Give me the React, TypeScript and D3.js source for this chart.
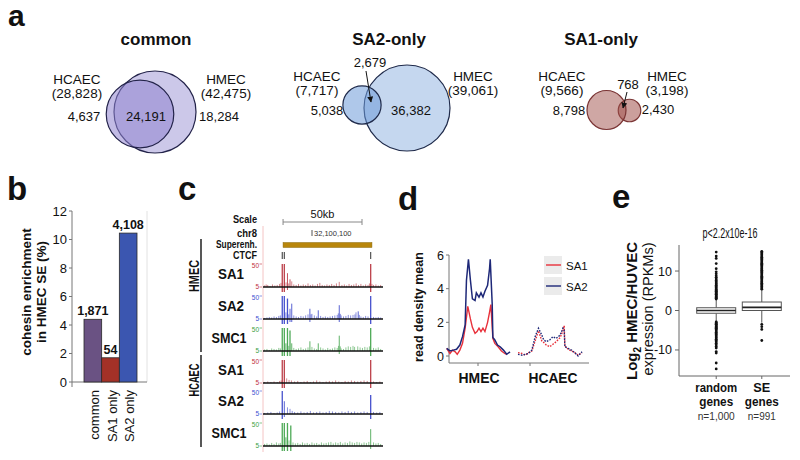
import React from 'react';
import * as d3 from 'd3';

const FONT = "'Liberation Sans', Arial, Helvetica, sans-serif";

// ---------------- Panel a: Venn counts ----------------
const vennTitles = ['common', 'SA2-only', 'SA1-only'];
const vennHcaecTotal = [28828, 7717, 9566];
const vennHmecTotal = [42475, 39061, 3198];
const vennHcaecOnly = [4637, 5038, 8798];
const vennOverlap = [24191, 2679, 768];
const vennHmecOnly = [18284, 36382, 2430];

// ---------------- Panel b: bars ----------------
const barCategories = ['common', 'SA1 only', 'SA2 only'];
const barValues = [4.4, 1.7, 10.45];
const barCounts = [1871, 54, 4108];
const barTicks = [0, 2, 4, 6, 8, 10, 12];

// ---------------- Panel c: tracks ----------------
const trackGroups = ['HMEC', 'HCAEC'];
const trackNames = ['SA1', 'SA2', 'SMC1', 'SA1', 'SA2', 'SMC1'];
const trackTickLabels = ['50', '5'];
const ctcfSites = [12.2, 13.5, 68.2];
const superEnhancer = [12.7, 69];
const scaleBarKb = [12.7, 62.7];
const chrName = 'chr8';
const chrCoordLabel = '32,100,100';
const hmecSA1Signal: [number, number][] = [[1,8],[2,10],[3,9],[4.5,7],[6,10],[7.5,8],[9,9],[10.5,11],[11.4,13],[12.2,60],[13.5,60],[14.6,14],[15.5,32],[16.3,12],[17.1,20],[18.2,16],[19.5,10],[21,9],[22.5,11],[24,8],[25.5,10],[27,9],[28.5,12],[30,9],[31.5,10],[33,8],[34.5,11],[36,13],[37.5,9],[39,8],[40.5,10],[42,9],[43.5,11],[45,9],[46.5,12],[48.3,15],[50,9],[51.5,10],[53,8],[54.5,11],[56,9],[57.5,10],[59,12],[60.5,9],[62,11],[63.5,8],[65,10],[66.5,9],[67.4,12],[68.2,60],[69,11],[70,9],[71.5,10],[73,8],[74.5,9]];
const hmecSA2Signal: [number, number][] = [[1,7],[2.5,8],[4,9],[5.5,8],[7,10],[8.5,9],[10,11],[11,12],[12.2,60],[13.5,60],[14.5,18],[15.5,45],[16.3,14],[17.1,25],[18.2,35],[19.5,12],[21,10],[22.5,9],[24,11],[25.5,10],[27,12],[28.5,14],[29.7,25],[30.4,14],[31,15],[32.5,12],[34,10],[35,22],[36.5,11],[38,9],[39.5,10],[41,9],[42.5,10],[44,11],[45.5,12],[47,13],[47.7,16],[48.3,32],[49,15],[49.5,12],[51,10],[52.5,11],[54,13],[55.5,12],[57,13],[58.2,14],[58.9,18],[60.3,20],[61,13],[62,10],[63.5,9],[65,11],[66.5,10],[68.2,60],[70,9],[71.5,8],[73,9],[74.5,8]];
const hmecSMC1Signal: [number, number][] = [[1,8],[2.5,9],[4,7],[5.5,10],[7,9],[8.5,8],[10,11],[11,10],[12.2,60],[13.5,60],[14.5,20],[15.5,55],[16.3,15],[17.1,45],[18.2,20],[19.5,11],[21,9],[22.5,10],[24,12],[25.5,9],[27,10],[28.5,12],[29.7,24],[31,13],[32.5,10],[34,9],[35,20],[36.5,12],[38,10],[39.5,8],[41,11],[42.5,9],[44,10],[45.5,12],[47,11],[47.8,15],[48.3,35],[49,14],[49.5,10],[51,9],[52.5,12],[54,14],[55.5,13],[57,15],[58,13],[60,14],[61.5,12],[63,11],[64.5,13],[66,12],[67.4,14],[68.2,60],[70,11],[71.5,10],[73,12],[74.5,9]];
const hcaecSA1Signal: [number, number][] = [[1,7],[3,8],[5,7],[7,8],[9,7],[10.5,9],[11.5,10],[12.2,60],[13.5,60],[15,14],[16.5,11],[18,10],[20,8],[22,9],[24,7],[26,8],[28,9],[30,7],[32,8],[34,10],[36,8],[38,7],[40,8],[42,9],[44,8],[46,10],[48,8],[50,7],[52,9],[54,8],[56,10],[58,9],[60,8],[62,9],[64,10],[66,9],[68.2,60],[70,8],[72,7],[74,8]];
const hcaecSA2Signal: [number, number][] = [[1,7],[3,8],[5,9],[7,7],[9,8],[10.5,10],[12.2,55],[13.5,30],[15.5,18],[17.1,15],[18.5,11],[20,9],[22,8],[24,10],[26,8],[28,9],[30,11],[32,8],[34,9],[36,10],[38,8],[40,9],[42,11],[44,10],[46,9],[48,8],[50,10],[52,9],[54,11],[56,9],[58,10],[60,8],[62,9],[64,10],[66,9],[68.2,42],[70,9],[72,8],[74,9]];
const hcaecSMC1Signal: [number, number][] = [[1,9],[2.5,10],[4,8],[5.5,11],[7,9],[8.5,12],[10,10],[11,11],[12.2,60],[13.5,60],[14.5,22],[15.5,55],[16.5,16],[17.6,45],[19,12],[20.5,10],[22,11],[23.5,9],[25,12],[26.5,10],[28,11],[29.5,9],[31,12],[32.5,10],[34,11],[35.5,9],[37,12],[38.5,10],[40,11],[41.5,12],[43,13],[44.5,10],[46,12],[47.5,11],[49,13],[50.5,10],[52,12],[53.5,11],[55,14],[56.5,12],[58,11],[59.5,13],[61,12],[62.5,10],[64,12],[65.5,11],[67,13],[68.2,38],[70,12],[71.5,10],[73,11],[74.5,9]];
const trackSignals = [hmecSA1Signal, hmecSA2Signal, hmecSMC1Signal, hcaecSA1Signal, hcaecSA2Signal, hcaecSMC1Signal];

// ---------------- Panel d: read density profiles ----------------
const profileSeries = ['SA1', 'SA2'];
const profileGroups = ['HMEC', 'HCAEC'];
const profileTicks = [0, 2, 4, 6];
const hmecSA2Pos = [1,6,11,16,21,25,29,31,34,37,40,44,46,50,53,56,59,63,66,67,70,71,74,78,82,87,92,97];
const hmecSA2Val = [0.45,0.3,0.35,0.4,0.65,1.15,1.85,4.5,5.75,4.5,3.4,3.3,3.75,3.5,3.75,3.5,3.85,4.2,5.2,5.75,3.1,1.1,0.95,0.65,0.55,0.35,0.1,0.25];
const hmecSA1Pos = [1,6,10,14,17,21,25,29,33,37,40,44,47,50,53,56,59,63,66,68,71,74,79,84,89,92];
const hmecSA1Val = [0.45,0.15,0.35,0.25,0.1,0.35,0.75,1.65,2.95,2.2,1.7,1.35,1.45,1.65,1.45,1.65,1.45,2.0,2.6,3.05,1.05,0.75,0.55,0.3,0.15,0.1];
const hcaecPos = [0,6,11,16,21,26,31,36,39,43,48,53,58,64,68,70,71,76,81,86,91,97];
const hcaecSA2Val = [0.1,0.05,0.1,0.15,0.35,1.15,1.65,1.25,0.95,0.85,0.95,1.15,1.05,1.25,1.65,1.55,0.55,0.45,0.35,0.2,0.0,0.25];
const hcaecSA1Val = [0.2,0.15,0.05,0.2,0.3,0.9,1.5,0.9,0.8,0.65,0.55,0.7,0.85,1.1,1.5,1.8,0.6,0.4,0.3,0.2,0.05,0.2];

// ---------------- Panel e: box plots ----------------
const boxGroups = ['random', 'SE'];
const boxGroupSub = ['genes', 'genes'];
const boxN = ['n=1,000', 'n=991'];
const boxQ1 = [-0.7, 0];
const boxMedian = [0, 0.8];
const boxQ3 = [0.7, 2.15];
const boxWhiskerLo = [-2.7, -3.1];
const boxWhiskerHi = [2.7, 5.2];
const boxTicks = [-10, 0, 10];
const randomOutliers = [2.9,3.1,3.3,3.5,3.7,3.9,4.1,4.3,4.5,4.7,4.9,5.1,5.3,5.5,5.8,6.1,6.4,6.7,7.0,7.3,7.6,8.0,8.4,8.8,9.3,9.8,10.6,11.9,13.2,13.8,14.8,
  -2.9,-3.1,-3.3,-3.5,-3.7,-3.9,-4.1,-4.3,-4.5,-4.7,-4.9,-5.2,-5.5,-5.8,-6.1,-6.4,-6.7,-7.0,-7.3,-7.6,-7.9,-8.3,-8.7,-9.1,-9.5,-10.4,-10.8,-13.3,-14.8];
const seOutliers = [5.4,5.7,6.0,6.3,6.6,6.9,7.2,7.5,7.8,8.1,8.4,8.7,9.0,9.3,9.6,9.9,10.2,10.5,10.8,11.1,11.4,11.7,12.0,12.3,12.6,12.9,13.2,13.5,13.8,14.1,14.4,14.7,15.0,
  -3.5,-4.1,-4.8,-7.6];
const pValueLabel = 'p<2.2x10e-16';

// ---------------- helpers ----------------
type TP = { x: number; y: number; s?: number; b?: boolean; a?: string; rot?: number; fill?: string; len?: number; children?: any };
const T = ({ x, y, s = 13, b = false, a = 'middle', rot, fill = '#111', len, children }: TP) => (
  <text
    x={rot !== undefined ? 0 : x}
    y={rot !== undefined ? 0 : y}
    transform={rot !== undefined ? `translate(${x},${y}) rotate(${rot})` : undefined}
    fontSize={s}
    fontWeight={b ? 'bold' : 'normal'}
    textAnchor={a}
    fill={fill}
    textLength={len}
    lengthAdjust={len ? 'spacingAndGlyphs' : undefined}
  >
    {children}
  </text>
);

const fmt = d3.format(',');

// ---------------- Panel a ----------------
const vennLayout = [
  { hc: [140, 114], hm: [155, 112], rMax: 41, title: [156, 45], hcL: [77, 84, 98], hmL: [226, 84, 98], hcO: [84, 121], ov: [146, 121], hmO: [219, 121], arrow: null as null | number[],
    color: '#8f84cf', hcOp: 0.55, hmOp: 0.45, stroke: '#23234a' },
  { hc: [362, 105], hm: [407, 108], rMax: 43, title: [389, 45], hcL: [317, 81, 95], hmL: [473, 81, 95], hcO: [327, 115], ov: [370, 67], hmO: [411, 115], arrow: [366, 71, 371, 102],
    color: '#6d9ad8', hcOp: 0.55, hmOp: 0.4, stroke: '#1f2a4a' },
  { hc: [606.5, 110], hm: [629.5, 110.5], rMax: 19.5, title: [601, 45], hcL: [562, 81, 95], hmL: [667, 81, 95], hcO: [569, 115], ov: [628, 89], hmO: [658, 114], arrow: [627, 92, 623, 108],
    color: '#a0504a', hcOp: 0.5, hmOp: 0.55, stroke: '#7a3434' },
];

function PanelA() {
  return (
    <g>
      <T x={8} y={26} s={30} b a="start">a</T>
      {vennLayout.map((L, i) => {
        const r = d3.scaleSqrt().domain([0, Math.max(vennHcaecTotal[i], vennHmecTotal[i])]).range([0, L.rMax]);
        return (
          <g key={i}>
            <T x={L.title[0]} y={L.title[1]} s={17} b>{vennTitles[i]}</T>
            <circle cx={L.hm[0]} cy={L.hm[1]} r={r(vennHmecTotal[i])} fill={L.color} fillOpacity={L.hmOp} stroke={L.stroke} strokeWidth={1.2} />
            <circle cx={L.hc[0]} cy={L.hc[1]} r={r(vennHcaecTotal[i])} fill={L.color} fillOpacity={L.hcOp} stroke={L.stroke} strokeWidth={1.2} />
            <T x={L.hcL[0]} y={L.hcL[1]} s={13.5}>HCAEC</T>
            <T x={L.hcL[0]} y={L.hcL[2]} s={13.5}>({fmt(vennHcaecTotal[i])})</T>
            <T x={L.hmL[0]} y={L.hmL[1]} s={13.5}>HMEC</T>
            <T x={L.hmL[0]} y={L.hmL[2]} s={13.5}>({fmt(vennHmecTotal[i])})</T>
            <T x={L.hcO[0]} y={L.hcO[1]} s={13}>{fmt(vennHcaecOnly[i])}</T>
            <T x={L.ov[0]} y={L.ov[1]} s={13}>{fmt(vennOverlap[i])}</T>
            <T x={L.hmO[0]} y={L.hmO[1]} s={13}>{fmt(vennHmecOnly[i])}</T>
            {L.arrow && (
              <line x1={L.arrow[0]} y1={L.arrow[1]} x2={L.arrow[2]} y2={L.arrow[3]} stroke="#111" strokeWidth={1} markerEnd="url(#arrowHead)" />
            )}
          </g>
        );
      })}
    </g>
  );
}

// ---------------- Panel b ----------------
function PanelB() {
  const y = d3.scaleLinear().domain([0, 12]).range([382, 211]);
  const x = d3.scaleBand().domain(barCategories).range([84, 137]).padding(0);
  const colors = ['#6a5283', '#a33127', '#3b56b0'];
  return (
    <g>
      <T x={7} y={200} s={33} b a="start">b</T>
      <line x1={147} x2={147} y1={211} y2={382} stroke="#e2e2e2" />
      <line x1={72} x2={72} y1={211} y2={382} stroke="#777" />
      <line x1={72} x2={147} y1={382} y2={382} stroke="#777" />
      <line x1={72} x2={72} y1={382} y2={387} stroke="#777" />
      {barTicks.map((t) => (
        <g key={t}>
          <line x1={69} x2={72} y1={y(t)} y2={y(t)} stroke="#777" />
          <T x={67} y={y(t) + 4.5} s={13} a="end">{t}</T>
        </g>
      ))}
      {barCategories.map((c, i) => (
        <g key={c}>
          <rect x={x(c)!} y={y(barValues[i])} width={x.bandwidth()} height={y(0) - y(barValues[i])} fill={colors[i]} stroke="#2a2a2a" strokeWidth={0.8} />
          <T x={x(c)! + x.bandwidth() / 2} y={y(barValues[i]) - 4} s={12.5} b>{fmt(barCounts[i])}</T>
          <T x={x(c)! + x.bandwidth() / 2 + 6} y={390} s={13} a="end" rot={-90}>{c}</T>
        </g>
      ))}
      <T x={31} y={292} s={13.5} b rot={-90}>cohesin enrichment</T>
      <T x={46} y={292} s={13.5} b rot={-90}>in HMEC SE (%)</T>
    </g>
  );
}

// ---------------- Panel c ----------------
function PanelC() {
  const x = d3.scaleLinear().domain([0, 76]).range([263, 383]);
  const baselines = [287, 319, 351, 383, 414, 446];
  const trackColor: Record<string, string> = { SA1: '#b01e2a', SA2: '#2633c4', SMC1: '#2e9a38' };
  const labelColor: Record<string, string> = { SA1: '#c0303c', SA2: '#4050d0', SMC1: '#3aa040' };
  return (
    <g>
      <T x={178} y={200} s={33} b a="start">c</T>
      <T x={257} y={223} s={11} b a="end" len={24}>Scale</T>
      <T x={257} y={237} s={11} b a="end" len={20}>{chrName}</T>
      <T x={257} y={248} s={11} b a="end" len={41}>Superenh.</T>
      <T x={257} y={259} s={11} b a="end" len={24}>CTCF</T>
      <line x1={x(scaleBarKb[0])} x2={x(scaleBarKb[1])} y1={222} y2={222} stroke="#888" />
      <line x1={x(scaleBarKb[0])} x2={x(scaleBarKb[0])} y1={219} y2={225} stroke="#888" />
      <line x1={x(scaleBarKb[1])} x2={x(scaleBarKb[1])} y1={219} y2={225} stroke="#888" />
      <T x={(x(scaleBarKb[0]) + x(scaleBarKb[1])) / 2} y={218} s={11}>{(scaleBarKb[1] - scaleBarKb[0]) + 'kb'}</T>
      <line x1={312} x2={312} y1={230} y2={236} stroke="#555" />
      <T x={314} y={236} s={7.5} a="start" fill="#333">{chrCoordLabel}</T>
      <rect x={x(superEnhancer[0])} y={242.5} width={x(superEnhancer[1]) - x(superEnhancer[0])} height={5} fill="#b8860b" stroke="#8a6a10" strokeWidth={0.5} />
      {ctcfSites.map((k, i) => (
        <line key={i} x1={x(k)} x2={x(k)} y1={252} y2={259} stroke="#444" strokeWidth={1.1} />
      ))}
      <line x1={263} x2={263} y1={226} y2={452} stroke="#f4c4c4" />
      {trackSignals.map((sig, ti) => {
        const b = baselines[ti];
        const y = d3.scaleLinear().domain([5, 50]).range([b, b - 23]).clamp(true);
        const name = trackNames[ti];
        const col = trackColor[name];
        return (
          <g key={ti}>
            <T x={259} y={y(50) + 3.5} s={6.5} a="end" fill={labelColor[name]}>{trackTickLabels[0]}</T>
            <T x={259} y={b + 1.5} s={6.5} a="end" fill={labelColor[name]}>{trackTickLabels[1]}</T>
            <line x1={259.5} x2={262} y1={y(50)} y2={y(50)} stroke={labelColor[name]} strokeWidth={0.6} />
            <line x1={259.5} x2={262} y1={b} y2={b} stroke={labelColor[name]} strokeWidth={0.6} />
            {sig.map(([k, v], j) => (
              <line key={j} x1={x(k)} x2={x(k)} y1={v >= 40 ? b + 5 : v >= 25 ? b + 3 : b} y2={y(v)} stroke={col} strokeWidth={v >= 40 ? 1.3 : 0.9} strokeOpacity={v >= 20 ? 0.85 : 0.6} />
            ))}
            <line x1={263} x2={383} y1={b} y2={b} stroke="#111" strokeWidth={1.6} />
            <T x={name === 'SMC1' ? 229 : 231} y={b - 8} s={name === 'SMC1' ? 14 : 15} b len={name === 'SMC1' ? 35 : 26}>{name}</T>
          </g>
        );
      })}
      <line x1={201} x2={201} y1={239} y2={352} stroke="#111" strokeWidth={1.4} />
      <line x1={201} x2={201} y1={355} y2={447} stroke="#111" strokeWidth={1.4} />
      <T x={199} y={276} s={15} b rot={-90} len={32}>{trackGroups[0]}</T>
      <T x={199} y={380} s={15} b rot={-90} len={33}>{trackGroups[1]}</T>
    </g>
  );
}

// ---------------- Panel d ----------------
function PanelD() {
  const y = d3.scaleLinear().domain([0, 6]).range([356, 255]);
  const xH = d3.scaleLinear().domain([0, 100]).range([446, 512]);
  const xC = d3.scaleLinear().domain([0, 100]).range([518, 584]);
  const red = '#e8303a';
  const navy = '#1e2878';
  const mk = (xs: d3.ScaleLinear<number, number>, pos: number[], val: number[]) =>
    d3.line<number>().x((_, i) => xs(pos[i])).y((v) => y(v)).curve(d3.curveLinear)(val) || '';
  const legendY = [265, 286];
  return (
    <g>
      <T x={398} y={210} s={33} b a="start">d</T>
      <line x1={449} x2={449} y1={255} y2={363} stroke="#777" />
      <line x1={449} x2={589} y1={363} y2={363} stroke="#777" />
      {profileTicks.map((t) => (
        <g key={t}>
          <line x1={446} x2={449} y1={y(t)} y2={y(t)} stroke="#777" />
          <T x={444} y={y(t) + 4.5} s={12.5} a="end">{t}</T>
        </g>
      ))}
      <line x1={478} x2={478} y1={363} y2={366} stroke="#777" />
      <line x1={530} x2={530} y1={363} y2={366} stroke="#777" />
      <path d={mk(xH, hmecSA1Pos, hmecSA1Val)} fill="none" stroke={red} strokeWidth={1.4} />
      <path d={mk(xH, hmecSA2Pos, hmecSA2Val)} fill="none" stroke={navy} strokeWidth={1.5} />
      <path d={mk(xC, hcaecPos, hcaecSA1Val)} fill="none" stroke={red} strokeWidth={1.4} strokeDasharray="1.6,1.3" />
      <path d={mk(xC, hcaecPos, hcaecSA2Val)} fill="none" stroke={navy} strokeWidth={1.4} strokeDasharray="1.6,1.3" />
      <T x={479} y={383} s={15} b len={41}>{profileGroups[0]}</T>
      <T x={553} y={383} s={15} b len={49}>{profileGroups[1]}</T>
      {profileSeries.map((s, i) => (
        <g key={s}>
          <rect x={544} y={legendY[i] - 9} width={18} height={18} fill="#ebebeb" />
          <line x1={546} x2={561} y1={legendY[i]} y2={legendY[i]} stroke={i === 0 ? red : navy} strokeWidth={1.4} />
          <T x={566} y={legendY[i] + 4.5} s={11.5} a="start">{s}</T>
        </g>
      ))}
      <T x={423} y={307} s={12.5} b rot={-90}>read density mean</T>
    </g>
  );
}

// ---------------- Panel e ----------------
function PanelE() {
  const y = d3.scaleLinear().domain([-16.6, 16.6]).range([376, 245]);
  const x = d3.scaleBand().domain(boxGroups).range([690, 788]).padding(0.15);
  const outs = [randomOutliers, seOutliers];
  return (
    <g>
      <T x={612} y={208} s={33} b a="start">e</T>
      <T x={730} y={238} s={14.5} len={55}>{pValueLabel}</T>
      <line x1={679} x2={679} y1={245} y2={376} stroke="#666" />
      <line x1={679} x2={790} y1={376} y2={376} stroke="#666" />
      {boxTicks.map((t) => (
        <g key={t}>
          <line x1={675} x2={679} y1={y(t)} y2={y(t)} stroke="#666" />
          <T x={672} y={y(t) + 4.5} s={12.5} a="end">{t}</T>
        </g>
      ))}
      {boxGroups.map((g, i) => {
        const cx = x(g)! + x.bandwidth() / 2;
        const bw = 39;
        return (
          <g key={g}>
            <line x1={cx} x2={cx} y1={y(boxQ3[i])} y2={y(boxWhiskerHi[i])} stroke="#555" />
            <line x1={cx} x2={cx} y1={y(boxQ1[i])} y2={y(boxWhiskerLo[i])} stroke="#555" />
            <line x1={cx} x2={cx} y1={376} y2={379} stroke="#666" />
            {outs[i].map((v, j) => (
              <circle key={j} cx={cx} cy={y(v)} r={1.4} fill="#111" />
            ))}
            <rect x={cx - bw / 2} y={y(boxQ3[i])} width={bw} height={y(boxQ1[i]) - y(boxQ3[i])} fill="#fff" stroke="#555" strokeWidth={1} />
            <line x1={cx - bw / 2} x2={cx + bw / 2} y1={y(boxMedian[i])} y2={y(boxMedian[i])} stroke="#222" strokeWidth={1.6} />
            <T x={cx} y={392} s={13} b len={i === 0 ? 42 : 17}>{g}</T>
            <T x={cx} y={406} s={13} b len={34}>{boxGroupSub[i]}</T>
            <T x={cx} y={420} s={11.5} fill="#333" len={i === 0 ? 37 : 28}>{boxN[i]}</T>
          </g>
        );
      })}
      <text transform="translate(637,311) rotate(-90)" fontSize={15} fontWeight="bold" textAnchor="middle" fill="#111">
        <tspan>Log</tspan>
        <tspan fontSize={10} dy={4}>2</tspan>
        <tspan dy={-4}> HMEC/HUVEC</tspan>
      </text>
      <T x={653} y={309} s={14.5} rot={-90}>expression (RPKMs)</T>
    </g>
  );
}

export default function App() {
  return (
    <svg width={800} height={460} viewBox="0 0 800 460" style={{ position: 'absolute', left: 0, top: 0, background: '#fff', fontFamily: FONT }}>
      <defs>
        <marker id="arrowHead" viewBox="0 0 10 10" refX="9" refY="5" markerWidth="6" markerHeight="6" orient="auto-start-reverse">
          <path d="M0,0 L10,5 L0,10 z" fill="#111" />
        </marker>
      </defs>
      <rect x={0} y={0} width={800} height={460} fill="#fff" />
      <PanelA />
      <PanelB />
      <PanelC />
      <PanelD />
      <PanelE />
    </svg>
  );
}
